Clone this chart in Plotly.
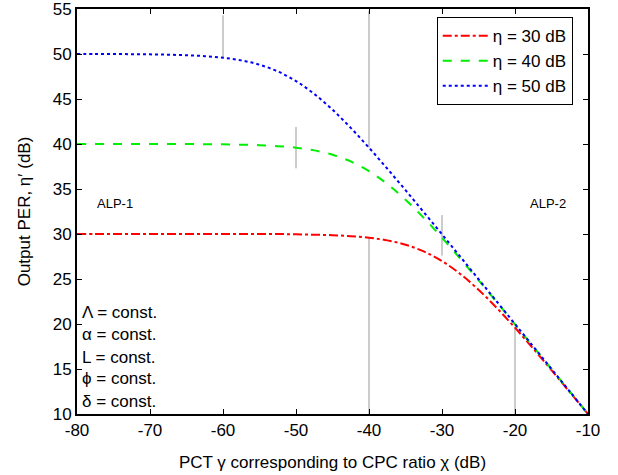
""" Output PER versus PCT plot """

from plotly import graph_objects as go

# x axis: PCT gamma (dB)
gamma_db = [-80, -77.5, -75, -72.5, -70, -67.5, -65, -62.5, -60, -57.5, -55,
            -52.5, -50, -47.5, -45, -42.5, -40, -37.5, -35, -32.5, -30,
            -27.5, -25, -22.5, -20, -17.5, -15, -12.5, -10]

# output PER eta' (dB)
per_30 = [30.0, 30.0, 30.0, 30.0, 30.0, 30.0, 30.0, 30.0, 30.0, 30.0, 30.0,
          30.0, 29.96, 29.92, 29.87, 29.76, 29.59, 29.29, 28.81, 28.06, 26.99,
          25.56, 23.81, 21.79, 19.59, 17.26, 14.87, 12.43, 10.0]
per_40 = [40.0, 40.0, 40.0, 40.0, 40.0, 40.0, 40.0, 39.98, 39.96, 39.92, 39.87,
          39.76, 39.59, 39.29, 38.81, 38.06, 36.99, 35.56, 33.81, 31.79, 29.59,
          27.26, 24.87, 22.43, 19.96, 17.48, 15.0, 12.5, 10.0]
per_50 = [50.0, 50.0, 50.0, 49.98, 49.96, 49.92, 49.86, 49.76, 49.59, 49.29, 48.81,
          48.06, 46.99, 45.56, 43.81, 41.79, 39.59, 37.26, 34.87, 32.43, 29.96,
          27.48, 24.99, 22.5, 20.0, 17.5, 15.0, 12.5, 10.0]

series = [
    ("\u03b7 = 30 dB", per_30, "#ff0000", "dashdot"),
    ("\u03b7 = 40 dB", per_40, "#00ee00", "dash"),
    ("\u03b7 = 50 dB", per_50, "#0000ff", "dot"),
]

x_ticks = [-80, -70, -60, -50, -40, -30, -20, -10]
x_ticktext = ["-80", "-70", "-60", "-50", "-40", "-30", "-20", "-10"]
y_ticks = [10, 15, 20, 25, 30, 35, 40, 45, 50, 55]

# thin grey marker segments (x, y start, y end)
seg_x = [-60, -50, -40, -40, -30, -20]
seg_y0 = [54.3, 41.9, 54.8, 29.6, 32.1, 19.7]
seg_y1 = [49.6, 37.3, 39.6, 10.0, 27.6, 10.0]

const_labels = ["\u039b = const.", "\u03b1 = const.", "L = const.",
                "\u03d5 = const.", "\u03b4 = const."]
const_y = [21.3, 18.8, 16.3, 14.0, 11.4]

FONT = "Arial, Liberation Sans, sans-serif"

fig = go.Figure()

seg_xs, seg_ys = [], []
for x, y0, y1 in zip(seg_x, seg_y0, seg_y1):
    seg_xs += [x, x, None]
    seg_ys += [y0, y1, None]
fig.add_trace(
    go.Scatter(x=seg_xs, y=seg_ys, mode="lines",
               line=dict(color="#999999", width=1), showlegend=False,
               hoverinfo="skip")
)

for name, values, color, dash in series:
    fig.add_trace(
        go.Scatter(x=gamma_db, y=values, mode="lines", name=name,
                   line=dict(color=color, dash=dash, width=2, shape="spline"))
    )

annotations = [
    dict(x=-77.6, y=33.4, text="ALP-1", showarrow=False, xanchor="left",
         font=dict(size=13, color="black", family=FONT)),
    dict(x=-18.2, y=33.4, text="ALP-2", showarrow=False, xanchor="left",
         font=dict(size=13, color="black", family=FONT)),
]
for label, y in zip(const_labels, const_y):
    annotations.append(
        dict(x=-79.6, y=y, text=label, showarrow=False, xanchor="left",
             font=dict(size=17, color="black", family=FONT))
    )

axis_style = dict(
    showline=True, linecolor="black", linewidth=2, mirror="ticks",
    ticks="inside", ticklen=5, tickcolor="black", tickwidth=1,
    showgrid=False, zeroline=False, automargin=False,
    ticklabeloverflow="allow",
    tickfont=dict(size=17, color="black", family=FONT),
)

fig.update_layout(
    width=618, height=475,
    margin={"l": 77, "r": 30, "t": 9, "b": 61, "autoexpand": False},
    plot_bgcolor="white", paper_bgcolor="white",
    font=dict(family=FONT, color="black"),
    annotations=annotations,
    legend=dict(
        x=0.704, y=0.98, xanchor="left", yanchor="top",
        bgcolor="white", bordercolor="black", borderwidth=1,
        font=dict(size=17, family=FONT, color="black"),
        tracegroupgap=0, itemwidth=45,
    ),
)
fig.update_xaxes(
    range=[-80, -10], tickvals=x_ticks, ticktext=x_ticktext,
    title=dict(text="PCT \u03b3 corresponding to CPC ratio \u03c7 (dB)",
               font=dict(size=17, family=FONT), standoff=17),
    **axis_style,
)
fig.update_yaxes(
    range=[10, 55], tickvals=y_ticks,
    title=dict(text="Output PER, \u03b7\u2032 (dB)",
               font=dict(size=17, family=FONT), standoff=18),
    **axis_style,
)

# drop the default page margin so the figure fills the window
fig.write_html(
    "out.html",
    config={"displayModeBar": False},
    post_script="document.body.style.margin = '0';",
)
